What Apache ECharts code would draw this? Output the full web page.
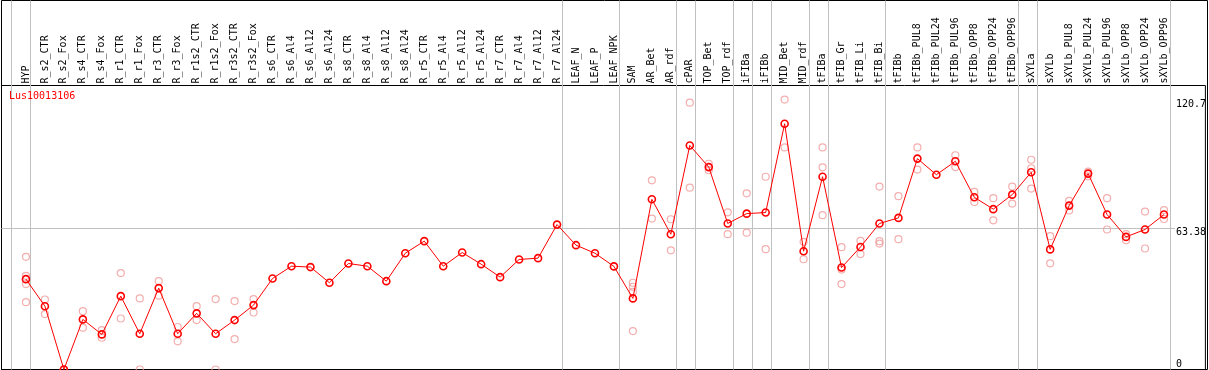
<!DOCTYPE html>
<html><head><meta charset="utf-8">
<script src="https://cdn.jsdelivr.net/npm/echarts@6/dist/echarts.min.js"></script>
<style>html,body{margin:0;padding:0;background:#fff}#c{width:1209px;height:370px}</style>
</head><body><div id="c"></div>
<script>
const title = 'Lus10013106';
const categories = ['HYP','R_s2_CTR','R_s2_Fox','R_s4_CTR','R_s4_Fox','R_r1_CTR','R_r1_Fox','R_r3_CTR','R_r3_Fox','R_r1s2_CTR','R_r1s2_Fox','R_r3s2_CTR','R_r3s2_Fox','R_s6_CTR','R_s6_Al4','R_s6_Al12','R_s6_Al24','R_s8_CTR','R_s8_Al4','R_s8_Al12','R_s8_Al24','R_r5_CTR','R_r5_Al4','R_r5_Al12','R_r5_Al24','R_r7_CTR','R_r7_Al4','R_r7_Al12','R_r7_Al24','LEAF_N','LEAF_P','LEAF_NPK','SAM','AR_Bet','AR_rdf','cPAR','TOP_Bet','TOP_rdf','iFIBa','iFIBb','MID_Bet','MID_rdf','tFIBa','tFIB_Gr','tFIB_Li','tFIB_Bi','tFIBb','tFIBb_PUL8','tFIBb_PUL24','tFIBb_PUL96','tFIBb_OPP8','tFIBb_OPP24','tFIBb_OPP96','sXYLa','sXYLb','sXYLb_PUL8','sXYLb_PUL24','sXYLb_PUL96','sXYLb_OPP8','sXYLb_OPP24','sXYLb_OPP96'];
const means = [40.4,28.3,0,22.4,15.7,32.8,16.0,36.4,16.0,25.1,16.0,22.1,28.8,40.7,46.2,45.8,38.8,47.4,46.2,39.5,52.0,57.4,46.2,52.3,47.1,41.3,49.2,49.8,64.8,55.6,52.0,46.1,31.8,76.1,60.5,100.2,90.5,65.3,69.7,70.2,109.9,52.9,86.2,45.6,54.8,65.3,67.8,94.3,87.1,93.1,77.0,71.7,78.2,88.2,53.7,73.3,87.6,69.3,59.3,62.6,69.3];
const replicates = [
  [50.4,41.9,38.2,30.1],[31.3,24.8],[0,0],[26.1,18.7],[17.6,14.2],[43.1,22.8],[31.8,0],[39.5,33.0],[19.0,12.6],[28.3,22.1],[31.5,0],[30.6,13.6],[31.5,25.5],
  [],[],[],[],[],[],[],[],[],[],[],[],[],[],[],[],[],[],[],
  [38.8,37.0,34.7,17.2],[84.6,67.5],[67.2,53.3],[119.3,81.3],[92.0,89.1],[70.3,60.5],[78.8,61.2],[86.2,53.8],[120.7,99.3],[57.1,49.3],[99.3,90.4,69.0],[54.7,44.7,38.2],[57.5,51.6],[81.8,57.4,56.3],[77.5,58.3],[99.3,89.4],[],[95.8,90.5],[79.4,74.9],[76.6,66.7],[81.8,74.2],[93.8,90.0,80.9],[59.6,47.5],[75.4,71.1],[88.5,86.4],[76.6,62.6],[60.5,57.8],[70.6,54.1],[71.3,67.3]
];
const groupEnds = [-1,0,28,31,34,35,37,38,39,41,42,45,52,53,60];
const refLine = 63.38;
const yTickValues = [0, 63.38, 120.7];
const yTickLabels = ['0', '63.38', '120.7'];

const FRAME_L = 1.5, FRAME_R = 1207.5, FIRST = 26, STEP = 19;
const XMIN = (FRAME_L - FIRST) / STEP, XMAX = (FRAME_R - FIRST) / STEP;
const SEP_OFF = 4.5 / STEP;
const REF_END = (1177 - FIRST) / STEP;
const YMAX = 127;
const MONO = 'DejaVu Sans Mono';
const LABEL_MARGIN = FRAME_R - 1178;

const repData = [];
replicates.forEach((arr, i) => arr.forEach(v => repData.push([i, v])));
const labelOf = v => yTickLabels[yTickValues.indexOf(v)];

const chart = echarts.init(document.getElementById('c'), null, {renderer: 'canvas'});
chart.setOption({
  animation: false,
  backgroundColor: '#fff',
  title: {text: title, left: 9, top: 91, padding: 0,
    textStyle: {color: '#ff0000', fontSize: 10, fontWeight: 'normal', fontFamily: MONO}},
  grid: [
    {left: FRAME_L, top: 0.5, width: FRAME_R - FRAME_L, height: 369, show: true, borderColor: '#000', borderWidth: 1, backgroundColor: 'transparent'},
    {left: FRAME_L, top: 85.5, width: FRAME_R - FRAME_L, height: 284, show: true, borderColor: '#000', borderWidth: 1, backgroundColor: 'transparent'}
  ],
  xAxis: [
    {gridIndex: 0, type: 'value', min: XMIN, max: XMAX, show: false},
    {gridIndex: 1, type: 'value', min: XMIN, max: XMAX, position: 'top',
      axisLine: {show: false}, axisTick: {show: false}, splitLine: {show: false},
      axisLabel: {customValues: categories.map((_, i) => i), formatter: v => categories[Math.round(v)],
        rotate: 90, margin: 2, color: '#000', fontSize: 10, fontFamily: MONO}}
  ],
  yAxis: [
    {gridIndex: 0, type: 'value', min: 0, max: 1, show: false},
    {gridIndex: 1, type: 'value', min: 0, max: YMAX, position: 'right',
      axisLine: {show: false}, axisTick: {show: false}, splitLine: {show: false},
      axisLabel: {inside: true, margin: LABEL_MARGIN, align: 'left', customValues: yTickValues.filter(v => v > 0), formatter: labelOf,
        verticalAlign: 'top', color: '#000', fontSize: 10, fontFamily: MONO}},
    {gridIndex: 1, type: 'value', min: 0, max: YMAX, position: 'right',
      axisLine: {show: false}, axisTick: {show: false}, splitLine: {show: false},
      axisLabel: {inside: true, margin: LABEL_MARGIN, align: 'left', customValues: yTickValues.filter(v => v === 0), formatter: labelOf,
        verticalAlign: 'bottom', color: '#000', fontSize: 10, fontFamily: MONO}}
  ],
  series: [
    {type: 'lines', coordinateSystem: 'cartesian2d', xAxisIndex: 0, yAxisIndex: 0, polyline: false, silent: true, z: 1,
      lineStyle: {color: '#c0c0c0', width: 1, opacity: 1},
      data: groupEnds.map(g => ({coords: [[g + SEP_OFF, 0], [g + SEP_OFF, 1]]}))},
    {type: 'scatter', xAxisIndex: 1, yAxisIndex: 1, data: repData, symbol: 'circle', symbolSize: 7, z: 3,
      itemStyle: {color: 'rgba(0,0,0,0)', borderColor: '#f09a9a', borderWidth: 1.2}},
    {type: 'line', xAxisIndex: 1, yAxisIndex: 1, data: means.map((v, i) => [i, v]), z: 4,
      symbol: 'circle', symbolSize: 7, showAllSymbol: true,
      lineStyle: {color: '#ff0000', width: 1},
      itemStyle: {color: 'rgba(0,0,0,0)', borderColor: '#ff0000', borderWidth: 1.6},
      markLine: {silent: true, symbol: 'none', label: {show: false}, z: 1,
        lineStyle: {color: '#c0c0c0', type: 'solid', width: 1},
        data: [[{coord: [XMIN, refLine]}, {coord: [REF_END, refLine]}]]}}
  ]
});
</script></body></html>
